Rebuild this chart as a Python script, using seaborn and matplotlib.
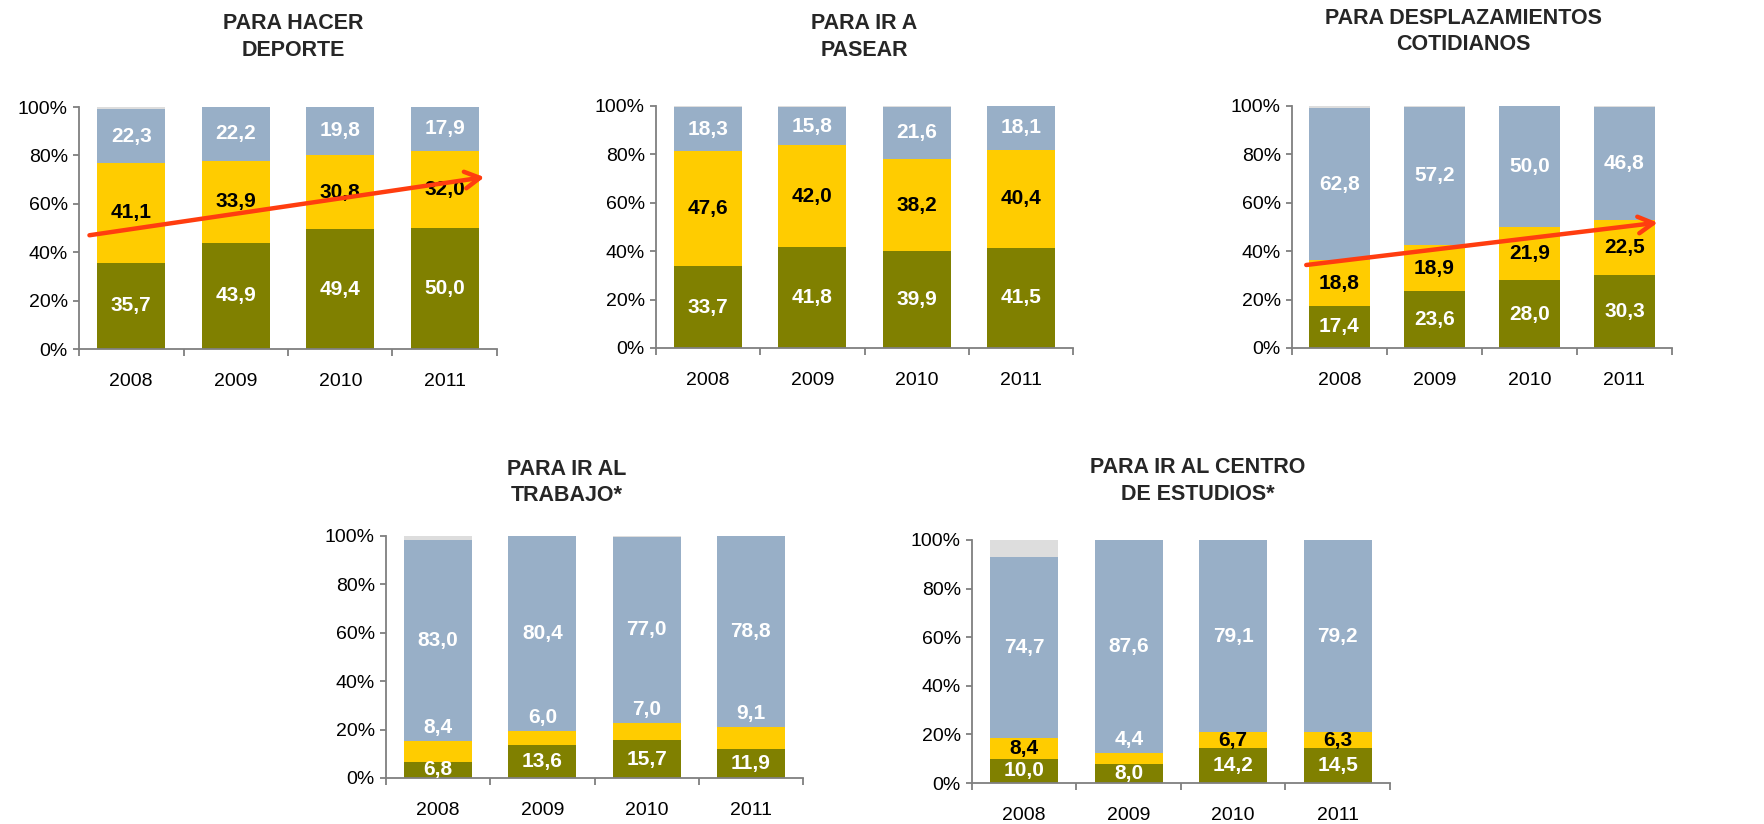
"""
Uso de la bicicleta por motivo, 2008-2011: barras apiladas al 100%.
"""

import matplotlib
matplotlib.use("Agg")
import numpy as np
import pandas as pd
import matplotlib.pyplot as plt
import seaborn as sns

# --- data -------------------------------------------------------------
years = ["2008", "2009", "2010", "2011"]

titles = [
    "PARA HACER\nDEPORTE",
    "PARA IR A\nPASEAR",
    "PARA DESPLAZAMIENTOS\nCOTIDIANOS",
    "PARA IR AL\nTRABAJO*",
    "PARA IR AL CENTRO\nDE ESTUDIOS*",
]

olive_vals = [
    [35.7, 43.9, 49.4, 50.0],
    [33.7, 41.8, 39.9, 41.5],
    [17.4, 23.6, 28.0, 30.3],
    [6.8, 13.6, 15.7, 11.9],
    [10.0, 8.0, 14.2, 14.5],
]
yellow_vals = [
    [41.1, 33.9, 30.8, 32.0],
    [47.6, 42.0, 38.2, 40.4],
    [18.8, 18.9, 21.9, 22.5],
    [8.4, 6.0, 7.0, 9.1],
    [8.4, 4.4, 6.7, 6.3],
]
blue_vals = [
    [22.3, 22.2, 19.8, 17.9],
    [18.3, 15.8, 21.6, 18.1],
    [62.8, 57.2, 50.0, 46.8],
    [83.0, 80.4, 77.0, 78.8],
    [74.7, 87.6, 79.1, 79.2],
]
# remaining share (no answer), only visible in 2008
gray_vals = [
    [0.9, 0.0, 0.0, 0.1],
    [0.4, 0.4, 0.3, 0.0],
    [1.0, 0.3, 0.1, 0.4],
    [1.8, 0.0, 0.3, 0.2],
    [6.9, 0.0, 0.0, 0.0],
]

# yellow labels drawn above the segment in white (segment too thin)
yellow_above = [
    [False] * 4,
    [False] * 4,
    [False] * 4,
    [True] * 4,
    [False, True, False, False],
]

# trend arrows (start / end in year index and %)
arrows = {
    0: ((-0.40, 47.0), (3.38, 71.0)),
    2: ((-0.35, 34.3), (3.35, 51.8)),
}

OLIVE = "#808000"
YELLOW = "#FFCC00"
BLUE = "#98AFC7"
GRAY = "#DDDDDD"
ARROW = "#FF3D0F"
AXIS = "#7F7F7F"

W, H = 1765, 824
# axes boxes in pixels: left, x-axis y, width, height
boxes = [
    (79, 349, 418, 242),
    (656, 348, 417, 242),
    (1292, 348, 380, 242),
    (386, 778, 417, 242),
    (972, 783, 418, 243),
]
title_x = [0.512, 0.5, 0.451, 0.433, 0.541]
title_pad = [37, 36, 40, 25, 29]

sns.set_theme(style="white")
plt.rcParams["font.family"] = ["Liberation Sans", "DejaVu Sans"]

fig = plt.figure(figsize=(W / 100, H / 100), dpi=100)

for i, (left, base, bw, bh) in enumerate(boxes):
    ax = fig.add_axes([left / W, 1 - base / H, bw / W, bh / H])

    df = pd.DataFrame({
        "year": years,
        "olive": olive_vals[i],
        "yellow": yellow_vals[i],
        "blue": blue_vals[i],
        "gray": gray_vals[i],
    })
    df["c1"] = df["olive"]
    df["c2"] = df["c1"] + df["yellow"]
    df["c3"] = df["c2"] + df["blue"]
    df["c4"] = df["c3"] + df["gray"]

    # layered cumulative bars, tallest first
    for col, color in [("c4", GRAY), ("c3", BLUE), ("c2", YELLOW), ("c1", OLIVE)]:
        sns.barplot(data=df, x="year", y=col, color=color, width=0.65,
                    saturation=1, linewidth=0, ax=ax)

    # data labels
    for j in range(len(years)):
        ax.text(j, df["olive"][j] / 2, f"{df['olive'][j]:.1f}".replace(".", ","),
                ha="center", va="center", color="white", fontsize=15,
                fontweight="bold")
        if yellow_above[i][j]:
            ax.text(j, df["c2"][j] + 5.5, f"{df['yellow'][j]:.1f}".replace(".", ","),
                    ha="center", va="center", color="white", fontsize=15,
                    fontweight="bold")
        else:
            ax.text(j, df["c1"][j] + df["yellow"][j] / 2,
                    f"{df['yellow'][j]:.1f}".replace(".", ","),
                    ha="center", va="center", color="black", fontsize=15,
                    fontweight="bold")
        ax.text(j, df["c2"][j] + df["blue"][j] / 2,
                f"{df['blue'][j]:.1f}".replace(".", ","),
                ha="center", va="center", color="white", fontsize=15,
                fontweight="bold")

    if i in arrows:
        (x0, y0), (x1, y1) = arrows[i]
        ax.annotate("", xy=(x1, y1), xytext=(x0, y0),
                    arrowprops=dict(arrowstyle="->,head_length=0.9,head_width=0.5",
                                    color=ARROW, lw=3.2, shrinkA=0, shrinkB=0),
                    annotation_clip=False)

    ax.set_xlim(-0.5, 3.5)
    ax.set_ylim(0, 100)
    ax.set_yticks([0, 20, 40, 60, 80, 100])
    ax.set_yticklabels(["0%", "20%", "40%", "60%", "80%", "100%"])
    ax.set_xticks(range(4))
    ax.set_xticklabels(years)
    ax.set_xticks(np.arange(-0.5, 4, 1), minor=True)
    ax.set_xlabel("")
    ax.set_ylabel("")

    for side in ["top", "right"]:
        ax.spines[side].set_visible(False)
    for side in ["left", "bottom"]:
        ax.spines[side].set_color(AXIS)
        ax.spines[side].set_linewidth(1.3)

    ax.tick_params(axis="y", which="major", left=True, length=4, width=1.3,
                   color=AXIS, direction="out", pad=4, labelsize=14,
                   labelcolor="black")
    ax.tick_params(axis="x", which="major", bottom=True, length=0, pad=17,
                   labelsize=14, labelcolor="black")
    ax.tick_params(axis="x", which="minor", bottom=True, length=5, width=1.3,
                   color=AXIS, direction="out")

    ax.set_title(titles[i], x=title_x[i], pad=title_pad[i], fontsize=15.5,
                 fontweight="bold", linespacing=1.35)

fig.savefig("out.png", dpi=100)
plt.close(fig)
